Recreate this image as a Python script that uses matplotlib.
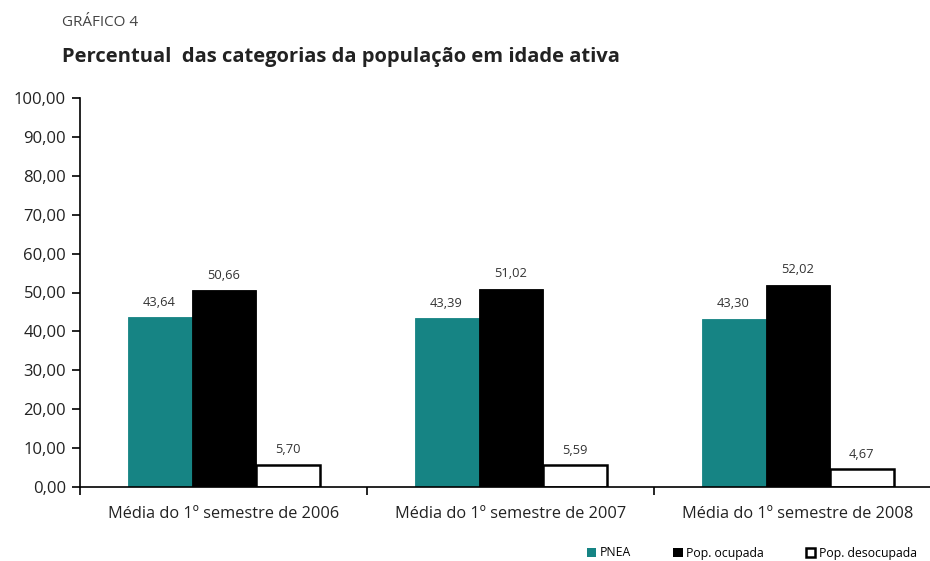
import matplotlib
matplotlib.use("Agg")
import matplotlib.pyplot as plt
import numpy as np
from matplotlib.patches import Patch

categorias = ["Média do 1º semestre de 2006", "Média do 1º semestre de 2007",
              "Média do 1º semestre de 2008"]
series = ["PNEA", "Pop. ocupada", "Pop. desocupada"]
pnea = [43.64, 43.39, 43.30]
ocupada = [50.66, 51.02, 52.02]
desocupada = [5.70, 5.59, 4.67]

cores = ["#168484", "#000000", "#ffffff"]

plt.rcParams['font.family'] = ['Open Sans', 'DejaVu Sans']

fig = plt.figure(figsize=(9.3, 5.61), dpi=100)
ax = fig.add_axes([80/930, 74/561, 861/930, 389/561])

x = np.arange(len(categorias)) + 0.5
w = 64/287
valores = [pnea, ocupada, desocupada]
for i, (nome, vals, cor) in enumerate(zip(series, valores, cores)):
    pos = x + (i - 1)*w
    ec = "#000000" if i == 2 else cor
    lw = 1.8 if i == 2 else 0.6
    ax.bar(pos, vals, width=w, color=cor, edgecolor=ec, linewidth=lw, zorder=2)
    for p, v in zip(pos, vals):
        ax.annotate(f"{v:.2f}".replace(".", ","), (p, v), xytext=(0, 6),
                    textcoords="offset points", ha="center", va="bottom",
                    fontsize=9.3, color="#333333")

ax.set_xlim(0, 3)
ax.set_ylim(0, 100)
ax.set_yticks(np.arange(0, 101, 10))
ax.set_yticklabels([f"{v:.2f}".replace(".", ",") for v in np.arange(0, 101, 10)],
                   fontsize=12, color="#222222")
ax.set_xticks([0, 1, 2, 3])
ax.set_xticklabels([])
ax.set_xticks(x, minor=True)
ax.set_xticklabels(categorias, minor=True, fontsize=11.8, color="#222222")
ax.tick_params(axis="x", which="minor", length=0, pad=14)
ax.tick_params(axis="x", which="major", length=6, width=1.2, direction="out")
ax.tick_params(axis="y", length=6, width=1.2, direction="out", pad=4)
for s in ["top", "right"]:
    ax.spines[s].set_visible(False)
ax.spines["left"].set_linewidth(1.2)
ax.spines["bottom"].set_linewidth(1.2)

fig.text(62/930, 1 - 22/561, "GRÁFICO 4", fontsize=11, color="#444444", va="center")
fig.text(62/930, 1 - 57/561, "Percentual  das categorias da população em idade ativa",
         fontsize=14.5, fontweight="bold", color="#222222", va="center")

handles = [Patch(facecolor=c, edgecolor="#000000" if c == "#ffffff" else c, linewidth=1.8 if c == "#ffffff" else 0)
           for c in cores]
fig.legend(handles, series, loc="center right", bbox_to_anchor=(928/930, 1 - 553/561),
           ncol=3, frameon=False, fontsize=8.8, handlelength=0.8, handleheight=0.8,
           handletextpad=0.3, columnspacing=3.4)

fig.savefig("out.png", dpi=100)
